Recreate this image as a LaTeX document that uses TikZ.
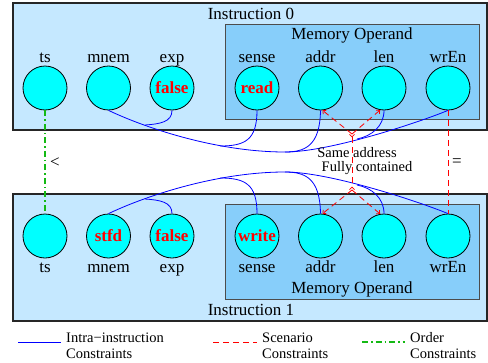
\documentclass[tikz,border=0pt]{standalone}
\usepackage{fontspec}
\setmainfont{Liberation Serif}
\usetikzlibrary{arrows.meta}

\definecolor{instfill}{RGB}{197,232,255}
\definecolor{memfill}{RGB}{135,206,250}
\definecolor{fieldfill}{RGB}{0,255,255}
\definecolor{ordergreen}{RGB}{20,185,20}

\begin{document}
\begin{tikzpicture}[x=1pt,y=-1pt,
        every node/.append style={font=\fontsize{17}{20}\selectfont},
        instbox/.style={draw=black!85, line width=1.2pt, fill=instfill, inner sep=0pt},
        membox/.style={draw=black!70, line width=1pt, fill=memfill, inner sep=0pt},
        field/.style={circle, draw, line width=0.8pt, fill=fieldfill, minimum size=44pt, inner sep=0pt,
            text=red, font=\fontsize{17}{20}\selectfont\bfseries},
        lbl/.style={anchor=base, inner sep=0pt},
        small/.style={inner sep=0pt, font=\fontsize{14.5}{16}\selectfont},
        intra/.style={blue, line width=0.8pt},
        scen/.style={red, line width=0.8pt, dash pattern=on 6pt off 4pt},
        order/.style={ordergreen, line width=1.2pt, dash pattern=on 6pt off 3pt on 1.5pt off 3pt},
        barb/.tip={Straight Barb[length=2.5pt,width=5pt]},
        rbarb/.tip={Straight Barb[reversed,length=2.5pt,width=5pt]},
        legend/.style={anchor=west, align=left, inner sep=0pt, font=\fontsize{14.5}{16}\selectfont}]
        \useasboundingbox (0,0) rectangle (488,362);

        % instruction boxes
        \node [instbox, minimum width=474pt, minimum height=127pt] (inst0) at (250,66.5) {};
        \node [membox, minimum width=254pt, minimum height=95pt] (mem0) at (352,71.5) {};
        \node [instbox, minimum width=474pt, minimum height=127pt] (inst1) at (250,257.5) {};
        \node [membox, minimum width=254pt, minimum height=95pt] (mem1) at (352,251.5) {};
        \node (inst0T) at (251,14) {Instruction 0};
        \node (mem0T) at (352,35) {Memory Operand};
        \node (inst1T) at (251,310) {Instruction 1};
        \node (mem1T) at (352,289) {Memory Operand};

        % fields of instruction 0
        \node [field] (ts0) at (45,88) {};
        \node [field] (mnem0) at (108.5,88) {};
        \node [field] (exp0) at (172,88) {false};
        \node [field] (sense0) at (257,88) {read};
        \node [field] (addr0) at (320.5,88) {};
        \node [field] (len0) at (384,88) {};
        \node [field] (wrEn0) at (448,88) {};
        \node [lbl] (ts0L) at (45,62) {ts};
        \node [lbl] (mnem0L) at (108.5,62) {mnem};
        \node [lbl] (exp0L) at (172,62) {exp};
        \node [lbl] (sense0L) at (257,62) {sense};
        \node [lbl] (addr0L) at (320.5,62) {addr};
        \node [lbl] (len0L) at (384,62) {len};
        \node [lbl] (wrEn0L) at (448,62) {wrEn};

        % fields of instruction 1
        \node [field] (ts1) at (45,236) {};
        \node [field] (mnem1) at (108.5,236) {stfd};
        \node [field] (exp1) at (172,236) {false};
        \node [field] (sense1) at (257,236) {write};
        \node [field] (addr1) at (320.5,236) {};
        \node [field] (len1) at (384,236) {};
        \node [field] (wrEn1) at (448,236) {};
        \node [lbl] (ts1L) at (45,272.5) {ts};
        \node [lbl] (mnem1L) at (108.5,272.5) {mnem};
        \node [lbl] (exp1L) at (172,272.5) {exp};
        \node [lbl] (sense1L) at (257,272.5) {sense};
        \node [lbl] (addr1L) at (320.5,272.5) {addr};
        \node [lbl] (len1L) at (384,272.5) {len};
        \node [lbl] (wrEn1L) at (448,272.5) {wrEn};

        % intra-instruction constraints
        \coordinate (j0a) at (145,125);
        \coordinate (j0b) at (220,146);
        \coordinate (j0c) at (285,152);
        \coordinate (j0d) at (357,139);
        \draw [intra] (mnem0.south) .. controls (150,130) and (220,152) .. (j0c)
            .. controls (330,152) and (420,122) .. (wrEn0.south);
        \draw [intra] (exp0.south) .. controls (172,122) and (160,124) .. (j0a);
        \draw [intra] (sense0.south) .. controls (257,140) and (245,146) .. (j0b);
        \draw [intra] (addr0.south) .. controls (320,146) and (305,152) .. (j0c);
        \draw [intra] (len0.south) .. controls (384,126) and (372,136) .. (j0d);

        \coordinate (j1a) at (145,199);
        \coordinate (j1b) at (220,178);
        \coordinate (j1c) at (285,172);
        \coordinate (j1d) at (357,185);
        \draw [intra] (mnem1.north) .. controls (150,194) and (220,172) .. (j1c)
            .. controls (330,172) and (420,202) .. (wrEn1.north);
        \draw [intra] (exp1.north) .. controls (172,202) and (160,200) .. (j1a);
        \draw [intra] (sense1.north) .. controls (257,184) and (245,178) .. (j1b);
        \draw [intra] (addr1.north) .. controls (320,178) and (305,172) .. (j1c);
        \draw [intra] (len1.north) .. controls (384,198) and (372,188) .. (j1d);

        % scenario constraints
        \coordinate (s0) at (352,134);
        \coordinate (s1) at (352,190);
        \draw [scen, rbarb-rbarb] (s0) -- (s1);
        \draw [scen, -barb] (s0) -- (addr0.-85);
        \draw [scen, -barb] (s0) -- (len0.-100);
        \draw [scen, -barb] (s1) -- (addr1.85);
        \draw [scen, -barb] (s1) -- (len1.100);
        \node [small] (sameT) at (357,153) {Same address};
        \node [small] (fullT) at (367,168) {Fully contained};
        \draw [scen] (wrEn0.south) -- (wrEn1.north);
        \node (eqL) at (457,163) {=};

        % order constraint
        \draw [order] (ts0.south) -- (ts1.north);
        \node (ltL) at (55,163) {<};

        % legend
        \coordinate (lg0a) at (18,342);
        \coordinate (lg0b) at (61,342);
        \coordinate (lg1a) at (213,342);
        \coordinate (lg1b) at (257,342);
        \coordinate (lg2a) at (362,342);
        \coordinate (lg2b) at (405,342);
        \draw [intra] (lg0a) -- (lg0b);
        \draw [scen] (lg1a) -- (lg1b);
        \draw [order] (lg2a) -- (lg2b);
        \node [legend] (lg0T) at (66,345.5) {Intra−instruction\\Constraints};
        \node [legend] (lg1T) at (262,345.5) {Scenario\\Constraints};
        \node [legend] (lg2T) at (410,345.5) {Order\\Constraints};
    \end{tikzpicture}
\end{document}
